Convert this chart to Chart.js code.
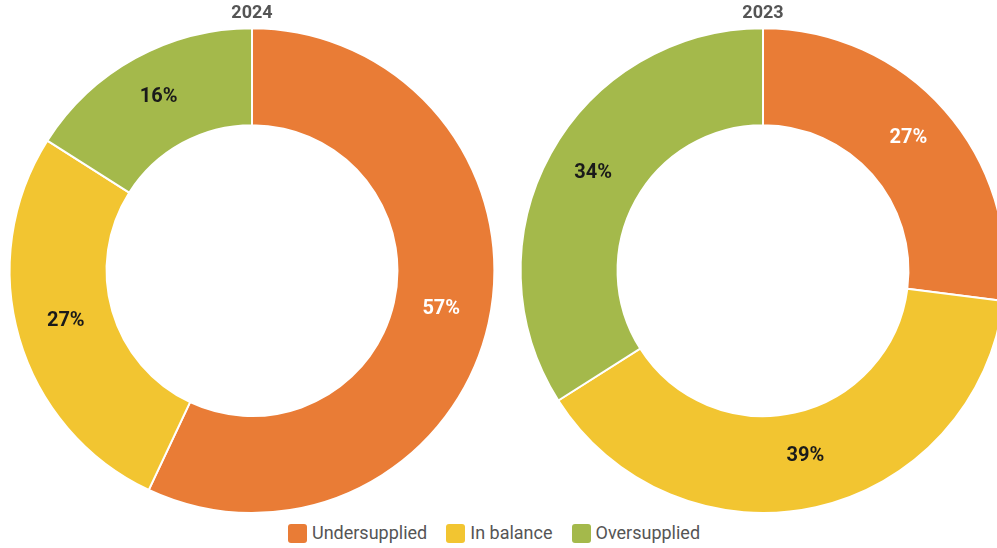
<!DOCTYPE html>
<html>
<head>
<meta charset="utf-8">
<script src="https://cdn.jsdelivr.net/npm/chart.js@4"></script>
<style>
  html, body { margin:0; padding:0; background:#fff; overflow:hidden; width:997px; height:548px; }
  #wrap { position:relative; width:997px; height:548px; overflow:hidden; }
  .cw { position:absolute; top:0; width:504px; height:514px; }
  #legend { position:absolute; left:0; width:988px; top:522px; display:flex; justify-content:center; gap:19px;
            font-family:Roboto, sans-serif; font-size:18px; line-height:22px; color:#555; }
  .li { display:flex; align-items:center; }
  .sw { width:19px; height:19px; border-radius:3px; margin-right:5px; }
</style>
</head>
<body>
<div id="wrap">
  <div class="cw" style="left:0px"><canvas id="c1"></canvas></div>
  <div class="cw" style="left:511px"><canvas id="c2"></canvas></div>
  <div id="legend"></div>
</div>
<script>
const categories = ["Undersupplied", "In balance", "Oversupplied"];
const colors = ["#E97C36", "#F2C531", "#A4B94B"];
const labelColors = ["#ffffff", "#1a1a1a", "#1a1a1a"];
const values2024 = [57, 27, 16];
const values2023 = [27, 39, 34];
const titles = ["2024", "2023"];

const labelPlugin = {
  id: 'arcLabels',
  afterDatasetsDraw(chart) {
    const ctx = chart.ctx;
    const meta = chart.getDatasetMeta(0);
    const data = chart.data.datasets[0].data;
    ctx.save();
    ctx.font = 'bold 20px Roboto, sans-serif';
    ctx.textAlign = 'center';
    ctx.textBaseline = 'middle';
    meta.data.forEach((arc, i) => {
      const p = arc.tooltipPosition();
      ctx.fillStyle = labelColors[i];
      ctx.fillText(data[i] + '%', p.x, p.y - 4);
    });
    ctx.restore();
  }
};

function makeChart(id, values, title) {
  return new Chart(document.getElementById(id), {
    type: 'doughnut',
    data: {
      labels: categories,
      datasets: [{
        data: values,
        backgroundColor: colors,
        borderColor: '#ffffff',
        borderWidth: 2,
        hoverOffset: 0
      }]
    },
    options: {
      responsive: true,
      maintainAspectRatio: false,
      animation: false,
      cutout: '60%',
      layout: { padding: 0 },
      plugins: {
        legend: { display: false },
        tooltip: { enabled: false },
        title: {
          display: true,
          text: title,
          color: '#555555',
          font: { family: 'Roboto, sans-serif', size: 18, weight: 'bold', lineHeight: 1.2 },
          padding: { top: 3, bottom: 2.6 }
        }
      }
    },
    plugins: [labelPlugin]
  });
}

makeChart('c1', values2024, titles[0]);
makeChart('c2', values2023, titles[1]);

const lg = document.getElementById('legend');
categories.forEach((c, i) => {
  const d = document.createElement('div');
  d.className = 'li';
  d.innerHTML = '<span class="sw" style="background:' + colors[i] + '"></span><span>' + c + '</span>';
  lg.appendChild(d);
});
</script>
</body>
</html>
